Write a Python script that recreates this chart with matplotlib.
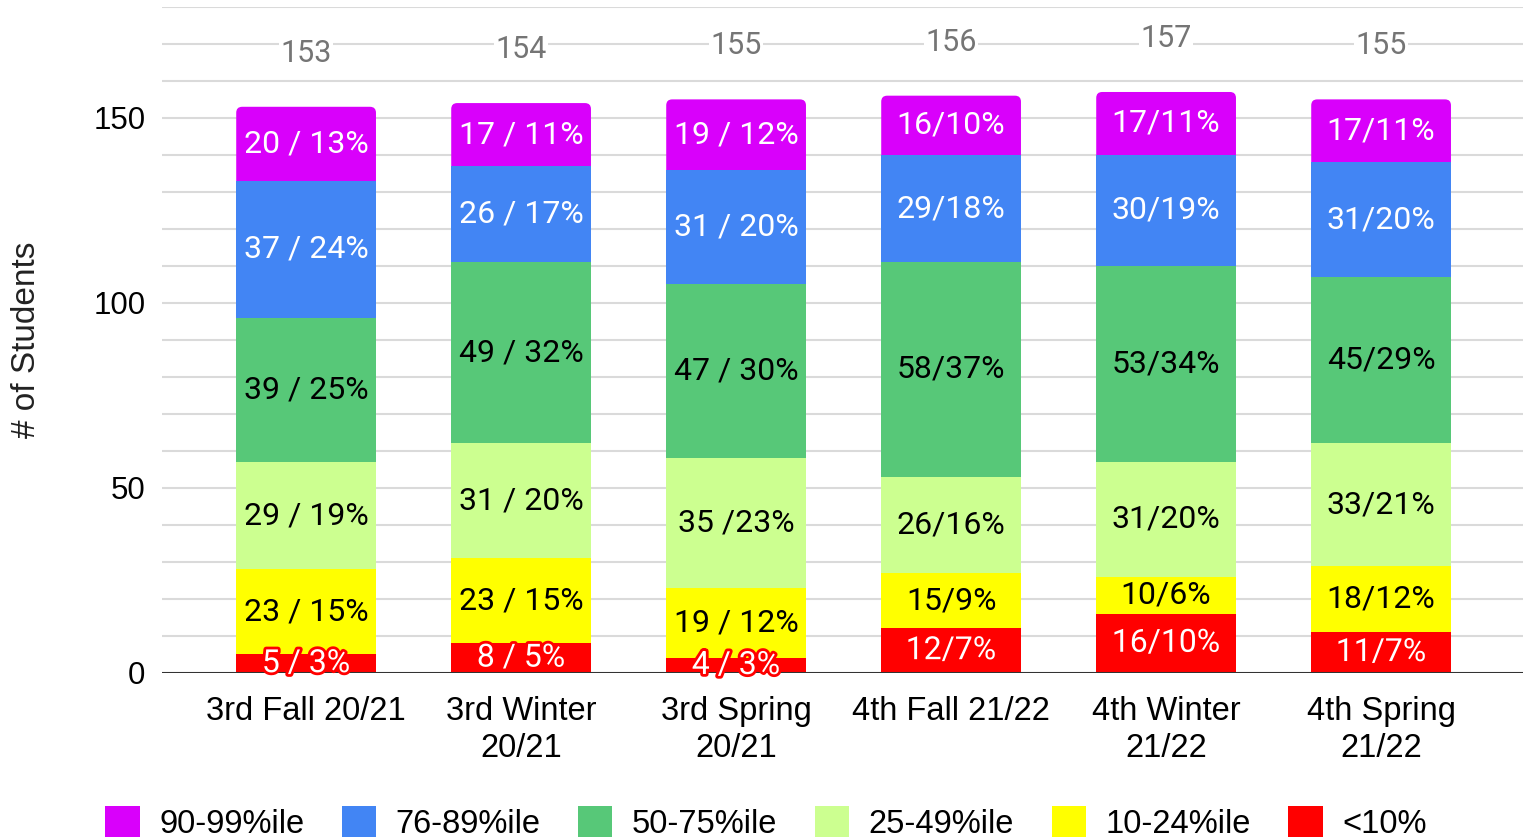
import matplotlib
matplotlib.use("Agg")
import matplotlib.pyplot as plt
import matplotlib.patheffects as pe
from matplotlib.patches import FancyBboxPatch, Patch
import numpy as np

categories = ["3rd Fall 20/21", "3rd Winter\n20/21", "3rd Spring\n20/21",
              "4th Fall 21/22", "4th Winter\n21/22", "4th Spring\n21/22"]

series_names = ["<10%", "10-24%ile", "25-49%ile", "50-75%ile", "76-89%ile", "90-99%ile"]
series_colors = ["#ff0000", "#ffff00", "#ccff90", "#57c878", "#4285f4", "#d900fb"]
text_colors = ["white", "black", "black", "black", "white", "white"]

below10 = [5, 8, 4, 12, 16, 11]
p10_24 = [23, 23, 19, 15, 10, 18]
p25_49 = [29, 31, 35, 26, 31, 33]
p50_75 = [39, 49, 47, 58, 53, 45]
p76_89 = [37, 26, 31, 29, 30, 31]
p90_99 = [20, 17, 19, 16, 17, 17]

lbl_below10 = ["5 / 3%", "8 / 5%", "4 / 3%", "12/7%", "16/10%", "11/7%"]
lbl_10_24 = ["23 / 15%", "23 / 15%", "19 / 12%", "15/9%", "10/6%", "18/12%"]
lbl_25_49 = ["29 / 19%", "31 / 20%", "35 /23%", "26/16%", "31/20%", "33/21%"]
lbl_50_75 = ["39 / 25%", "49 / 32%", "47 / 30%", "58/37%", "53/34%", "45/29%"]
lbl_76_89 = ["37 / 24%", "26 / 17%", "31 / 20%", "29/18%", "30/19%", "31/20%"]
lbl_90_99 = ["20 / 13%", "17 / 11%", "19 / 12%", "16/10%", "17/11%", "17/11%"]

totals = [153, 154, 155, 156, 157, 155]

series_values = [below10, p10_24, p25_49, p50_75, p76_89, p90_99]
series_labels = [lbl_below10, lbl_10_24, lbl_25_49, lbl_50_75, lbl_76_89, lbl_90_99]

AX_FONT = ["Liberation Sans", "DejaVu Sans"]
BAR_FONT = ["Roboto", "DejaVu Sans"]

fig = plt.figure(figsize=(15.23, 8.39), dpi=100)
ax = fig.add_axes([0.1064, 0.198, 0.8936, 0.7938])

x = np.arange(len(categories))
width = 0.65
bottom = np.zeros(len(categories))
all_containers = []
for vals, col in zip(series_values, series_colors):
    bc = ax.bar(x, vals, width, bottom=bottom, color=col, zorder=2, linewidth=0)
    all_containers.append(bc)
    bottom = bottom + np.array(vals)

ax.set_xlim(-0.67, 5.66)
ax.set_ylim(0, 180)

# rounded top corners on the top segment
xpx = 214.5
ypx = 3.707
rad_px = 6
for patch in all_containers[-1].patches:
    patch.set_visible(False)
    x0, y0, w, h = patch.get_x(), patch.get_y(), patch.get_width(), patch.get_height()
    fb = FancyBboxPatch((x0, y0 - 3), w, h + 3,
                        boxstyle=f"round,pad=0,rounding_size={rad_px / xpx}",
                        mutation_aspect=xpx / ypx,
                        facecolor=series_colors[-1], linewidth=0, zorder=1.9)
    ax.add_patch(fb)

# segment labels
for bc, labels, tc, col in zip(all_containers, series_labels, text_colors, series_colors):
    for patch, lab in zip(bc.patches, labels):
        cx = patch.get_x() + patch.get_width() / 2
        cy = patch.get_y() + patch.get_height() / 2
        kw = {}
        if col == "#ff0000":
            kw["path_effects"] = [pe.withStroke(linewidth=4, foreground="#ff0000")]
        ax.text(cx, cy, lab, ha="center", va="center", color=tc,
                fontsize=23, family=BAR_FONT, zorder=5, **kw)

# totals
for xi, t in zip(x, totals):
    ax.text(xi, t + 14.5, str(t), ha="center", va="center", color="#757575",
            fontsize=22, family=BAR_FONT, zorder=5,
            bbox=dict(facecolor="white", edgecolor="none", pad=1))

ax.set_yticks([0, 50, 100, 150])
ax.set_yticks(np.arange(0, 181, 10), minor=True)
ax.grid(axis="y", which="both", color="#dadada", linewidth=1.5, zorder=0)
ax.set_axisbelow(True)
ax.axhline(0, color="#333333", linewidth=2.2, zorder=3)

ax.set_xticks(x)
ax.set_xticklabels(categories, fontsize=23.5, family=AX_FONT, linespacing=1.25)
for lab in ax.get_yticklabels():
    lab.set_fontsize(22.5)
    lab.set_family(AX_FONT)
ax.tick_params(axis="both", which="both", length=0)
ax.tick_params(axis="y", pad=12)
ax.tick_params(axis="x", pad=17)

for s in ax.spines.values():
    s.set_visible(False)

fig.text(0.0175, 0.595, "# of Students", rotation=90, ha="center", va="center",
         fontsize=24, family=AX_FONT, color="#222222")

handles = [Patch(facecolor=c, edgecolor="none") for c in series_colors[::-1]]
leg = fig.legend(handles, series_names[::-1], loc="center", ncol=6,
                 bbox_to_anchor=(0.503, 0.019), frameon=False,
                 prop={"family": AX_FONT, "size": 23.5},
                 handlelength=1.05, handleheight=1.05, handletextpad=0.6,
                 columnspacing=1.15, borderaxespad=0)

fig.savefig("out.png", dpi=100)
